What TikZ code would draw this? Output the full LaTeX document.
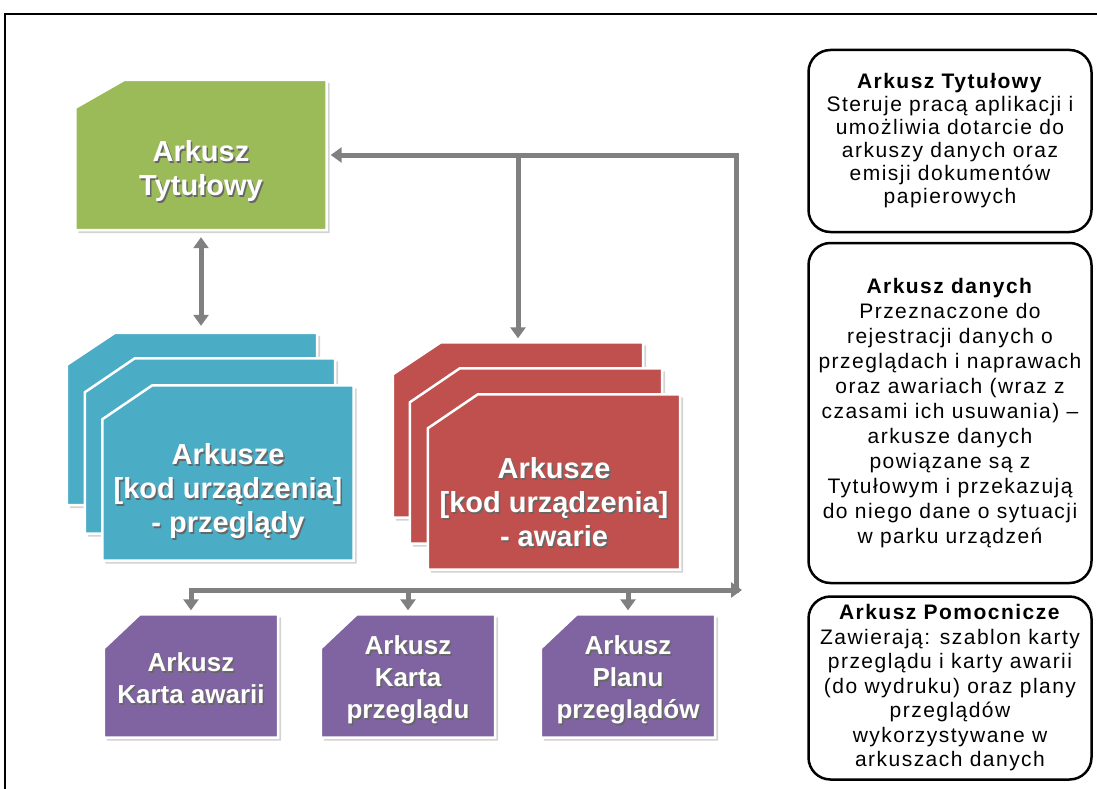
\documentclass[tikz,border=0pt]{standalone}
\usepackage{fontspec}
\setmainfont{Liberation Sans}
\newfontfamily\opisfont[LetterSpace=7]{Liberation Sans}
\usetikzlibrary{arrows.meta, positioning, shadows}
\definecolor{zielony}{HTML}{9BBB59}
\definecolor{niebieski}{HTML}{4BACC6}
\definecolor{czerwony}{HTML}{C0504D}
\definecolor{fioletowy}{HTML}{8064A2}
\definecolor{strzalka}{HTML}{808080}
% white text with a soft dark shadow
\newcommand{\cien}[1]{\makebox[0pt][l]{\hspace{1.5pt}\raisebox{-1.5pt}{\color{black!60}#1}}#1}
% sheet with a cut corner: name, colour, x, y, width, height, cut x, cut y
\newcommand{\kartka}[8]{%
    \node[ramka, minimum width=#5pt, minimum height=#6pt] (#1) at (#3,#4) {};
    \filldraw[arkusz=#2] (#1.south west) -- ([yshift=-#8pt]#1.north west) -- ([xshift=#7pt]#1.north west)
        -- (#1.north east) -- (#1.south east) -- cycle;}

\begin{document}
\begin{tikzpicture}[x=1pt, y=-1pt,
    ramka/.style={rectangle, inner sep=0pt},
    arkusz/.style={fill=#1, draw=white, line width=2.5pt,
        drop shadow={shadow xshift=3pt, shadow yshift=-3pt, opacity=0.35}},
    napis/.style={text=white, align=center, font=\bfseries\fontsize{29}{34}\selectfont},
    maly/.style={napis, font=\bfseries\fontsize{26}{32}\selectfont},
    opis/.style={draw, line width=2.5pt, rounded corners=22pt, minimum width=283pt,
        inner sep=0pt, align=center, font=\opisfont\fontsize{21}{#1}\selectfont},
    linia/.style={draw=strzalka, line width=5pt, line cap=rect},
    strz/.style={linia, -{Triangle[length=11pt, width=15pt]}},
    strzz/.style={linia, {Triangle[length=11pt, width=15pt]}-{Triangle[length=11pt, width=15pt]}}
]
\useasboundingbox (0,0) rectangle (1097,789);
\draw[line width=2.5pt] (5,789) -- (5,14) -- (1097,14);

% title sheet
\kartka{tytul}{zielony}{201}{155}{251}{150}{49}{28}
\node[napis] (tytul-napis) at ([yshift=-17pt]tytul.center) {\cien{Arkusz}\\\cien{Tytułowy}};

% data sheets
\kartka{przeg1}{niebieski}{192}{419}{250}{172}{48}{32}
\kartka{przeg2}{niebieski}{210}{446}{250}{175}{50}{34}
\kartka{przeg3}{niebieski}{228}{473}{251}{175}{50}{34}
\node[napis] (przeg-napis) at ([yshift=-19pt]przeg3.center) {\cien{Arkusze}\\\cien{[kod urządzenia]}\\\cien{- przeglądy}};

\kartka{awar1}{czerwony}{518}{430}{250}{175}{48}{32}
\kartka{awar2}{czerwony}{536}{456}{252}{175}{50}{34}
\kartka{awar3}{czerwony}{554}{482}{252}{175}{50}{34}
\node[napis] (awar-napis) at ([yshift=-21pt]awar3.center) {\cien{Arkusze}\\\cien{[kod urządzenia]}\\\cien{- awarie}};

% helper sheets
\kartka{karta1}{fioletowy}{191}{676}{174}{123}{36}{34}
\kartka{karta2}{fioletowy}{408}{676}{174}{123}{36}{34}
\kartka{karta3}{fioletowy}{628}{676}{174}{123}{36}{34}
\node[maly] (karta1-napis) at ([yshift=-3pt]karta1.center) {\cien{Arkusz}\\\cien{Karta awarii}};
\node[maly] (karta2-napis) at ([yshift=-5pt]karta2.center) {\cien{Arkusz}\\\cien{Karta}\\\cien{przeglądu}};
\node[maly] (karta3-napis) at ([yshift=-5pt]karta3.center) {\cien{Arkusz}\\\cien{Planu}\\\cien{przeglądów}};

% connectors
\coordinate (rog) at (736,155);
\coordinate (szyna) at (736,590);
\draw[strz] (szyna) -- (rog) -- ([xshift=4pt]tytul.east);
\draw[strz] (rog -| awar1.north) -- ([yshift=4pt]awar1.north);
\draw[strzz, shorten <=7pt, shorten >=7pt] (tytul.south) -- (tytul.south |- przeg1.north);
\draw[strz] (karta1.north |- szyna) -- ([xshift=6pt]szyna);
\foreach \k in {karta1,karta2,karta3}
    \draw[strz] (\k.north |- szyna) -- ([yshift=4pt]\k.north);

% descriptions
\node[opis=23, minimum height=182pt] (opis1) at (950,141) {\textbf{Arkusz Tytułowy}\\Steruje pracą aplikacji i\\umożliwia dotarcie do\\arkuszy danych oraz\\emisji dokumentów\\papierowych};
\node[opis=25, minimum height=340pt] (opis2) at (950,413) {\textbf{Arkusz danych}\\Przeznaczone do\\rejestracji danych o\\przeglądach i naprawach\\oraz awariach (wraz z\\czasami ich usuwania) –\\arkusze danych\\powiązane są z\\Tytułowym i przekazują\\do niego dane o sytuacji\\w parku urządzeń};
\node[opis=24.5, minimum height=183pt] (opis3) at (950,688) {\textbf{Arkusz Pomocnicze}\\Zawierają: szablon karty\\przeglądu i karty awarii\\(do wydruku) oraz plany\\przeglądów\\wykorzystywane w\\arkuszach danych};
\end{tikzpicture}
\end{document}
